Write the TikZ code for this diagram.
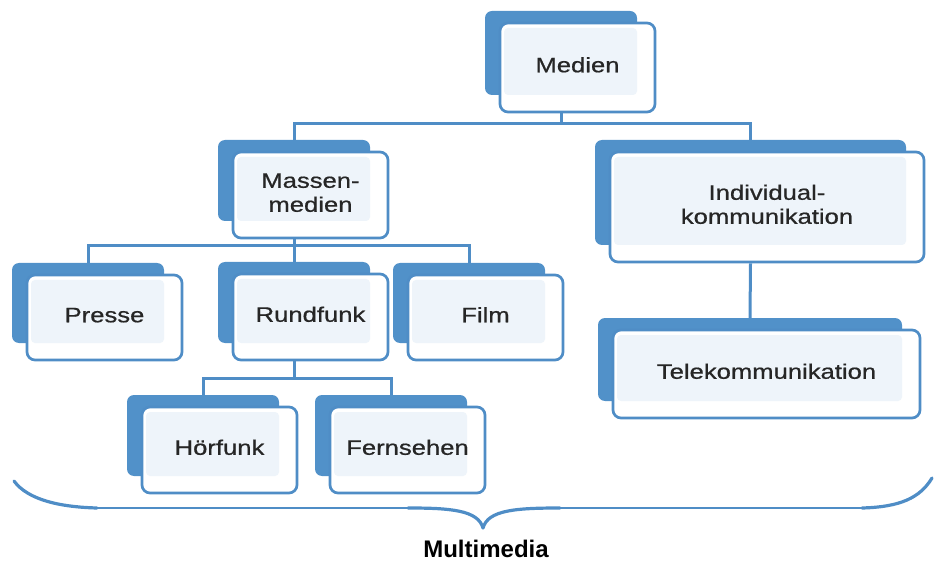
\documentclass[tikz,border=0pt]{standalone}
\usepackage{fontspec}
\usepackage{graphicx}
\setmainfont{Liberation Sans}
\newfontfamily\boxfont[FakeBold=0.6]{Liberation Sans}
\definecolor{backblue}{HTML}{5191C9}
\definecolor{lineblue}{HTML}{4F8DC6}
\definecolor{lightfill}{HTML}{EEF4FA}
\tikzset{
  backbox/.style={fill=backblue, rounded corners=7pt, inner sep=0pt, draw=none},
  frontbox/.style={fill=white, draw=lineblue, line width=2.7pt, rounded corners=8pt,
    inner sep=0pt, align=center, font=\boxfont\fontsize{21}{24}\selectfont,
    text=black!85,
    path picture={\fill[lightfill, rounded corners=4pt]
      ([shift={(4pt,-5pt)}]path picture bounding box.north west) rectangle
      ([shift={(-18pt,17pt)}]path picture bounding box.south east);}},
  conn/.style={draw=lineblue, line width=3pt},
  brthick/.style={draw=lineblue, line width=3.2pt, line cap=round},
  brthin/.style={draw=lineblue, line width=1.8pt},
}
\newcommand\twobox[6]{%
  \node[backbox, minimum width={(#4-#2-3)*1pt}, minimum height={(#5-#3-5)*1pt}]
    (#1B) at ({(#2+#4-33)/2},{(#3+#5-29)/2}) {};
  \node[frontbox, minimum width={(#4-#2)*1pt}, minimum height={(#5-#3)*1pt}]
    (#1F) at ({(#2+#4)/2},{(#3+#5)/2})
    {\scalebox{1.22}[1]{\begin{tabular}{@{}c@{}}#6\end{tabular}}};
}
\begin{document}
\begin{tikzpicture}[x=1pt,y=-1pt]
\useasboundingbox (0,0) rectangle (934,561);
\twobox{med}{500}{23}{655}{112}{Medien}
\twobox{mas}{233}{152}{388}{238}{Massen-\\medien}
\twobox{ind}{610}{152}{924}{262}{Individual-\\kommunikation}
\twobox{tel}{613}{330}{920}{418}{Telekommunikation}
\twobox{pre}{27}{275}{182}{360}{Presse}
\twobox{run}{233}{274}{388}{360}{Rundfunk}
\twobox{fil}{408}{275}{563}{360}{Film}
\twobox{hoer}{142}{407}{297}{493}{Hörfunk}
\twobox{fern}{330}{407}{485}{493}{Fernsehen}

\coordinate (j1) at (0,124);
\coordinate (j2) at (0,246);
\coordinate (j3) at (0,378);
\draw[conn] (medB.center |- medF.south) -- (medB.center |- j1) -| (masB.north);
\draw[conn] (medB.center |- j1) -| (indB.north);
\draw[conn] (masB.center |- masF.south) -- (masB.center |- j2) -| (preB.north);
\draw[conn] (masB.center |- j2) -| (filB.north);
\draw[conn] (masB.center |- j2) -- (runB.north);
\draw[conn] (indB.center |- indF.south) -- (telB.north);
\draw[conn] (runB.center |- runF.south) -- (runB.center |- j3) -| (hoerB.north);
\draw[conn] (runB.center |- j3) -| (fernB.north);

\draw[brthick] (14,481) .. controls (28,500) and (60,507) .. (97,508);
\draw[brthin] (97,508) -- (408,508);
\draw[brthick] (408,508) .. controls (450,508) and (478,510) .. (483,528);
\draw[brthick] (483,528) .. controls (488,510) and (516,508) .. (560,508);
\draw[brthin] (560,508) -- (862,508);
\draw[brthick] (862,508) .. controls (900,507) and (920,498) .. (932,478);
\node[font=\fontsize{24}{27}\bfseries\selectfont] (mm) at (486,549) {Multimedia};
\end{tikzpicture}
\end{document}
